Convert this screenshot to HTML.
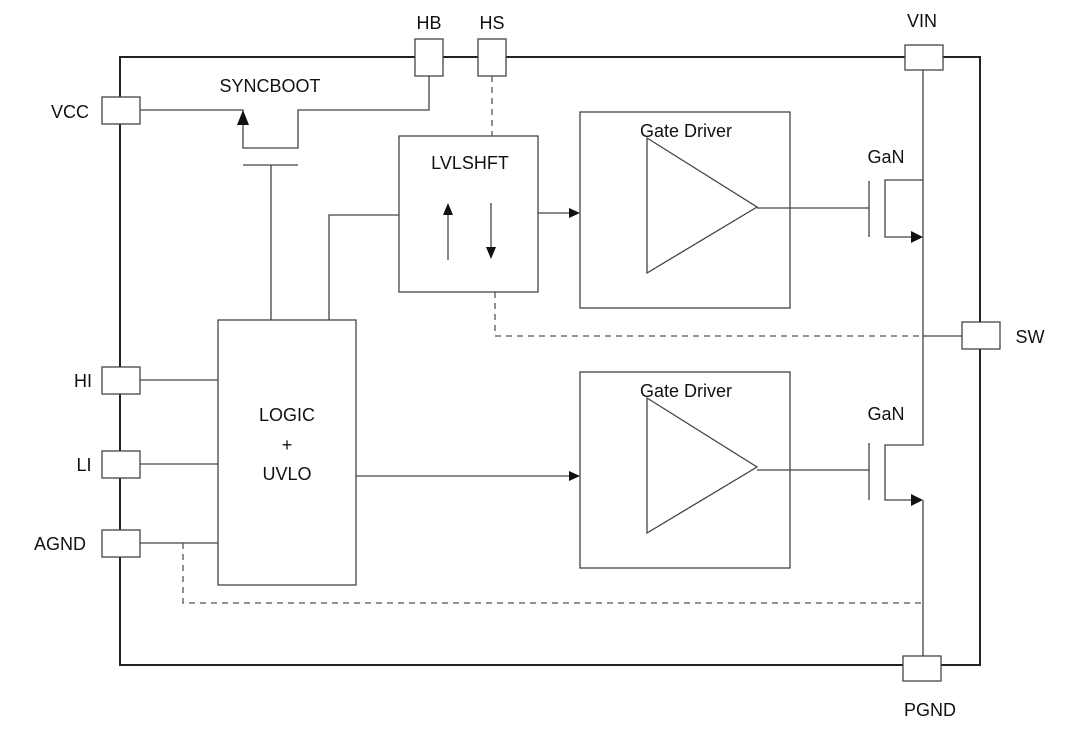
<!DOCTYPE html>
<html><head><style>body{margin:0;background:#fff}svg{display:block}text{font-family:"Liberation Sans",Arial,sans-serif;font-size:18px;fill:#111}</style></head><body>
<svg width="1080" height="733" viewBox="0 0 1080 733" xmlns="http://www.w3.org/2000/svg">
<g fill="none" stroke="#222" stroke-width="1.3">
<rect x="120" y="57" width="860" height="608" stroke-width="2"/>
</g>
<g fill="#fff" stroke="#444" stroke-width="1.3">
<rect x="905" y="45" width="38" height="25"/>
<rect x="903" y="656" width="38" height="25"/>
<rect x="962" y="322" width="38" height="27"/>
<rect x="415" y="39" width="28" height="37"/>
<rect x="478" y="39" width="28" height="37"/>
<rect x="102" y="97" width="38" height="27"/>
<rect x="102" y="367" width="38" height="27"/>
<rect x="102" y="451" width="38" height="27"/>
<rect x="102" y="530" width="38" height="27"/>
</g>
<g fill="none" stroke="#444" stroke-width="1.3">
<polyline points="140,110 243,110 243,148 298,148 298,110 429,110 429,76"/>
<line x1="243" y1="165" x2="298" y2="165"/>
<line x1="271" y1="165" x2="271" y2="320"/>
<rect x="399" y="136" width="139" height="156"/>
<line x1="448" y1="260" x2="448" y2="212"/>
<line x1="491" y1="203" x2="491" y2="250"/>
<polyline points="329,320 329,215 399,215"/>
<rect x="218" y="320" width="138" height="265"/>
<rect x="580" y="112" width="210" height="196"/>
<rect x="580" y="372" width="210" height="196"/>
<polygon points="647,138 757,207 647,273"/>
<polygon points="647,398 757,467 647,533"/>
<line x1="538" y1="213" x2="572" y2="213"/>
<line x1="356" y1="476" x2="572" y2="476"/>
<line x1="757" y1="208" x2="869" y2="208"/>
<line x1="757" y1="470" x2="869" y2="470"/>
<line x1="869" y1="181" x2="869" y2="237"/>
<line x1="869" y1="443" x2="869" y2="500"/>
<polyline points="923,70 923,445 885,445 885,500 915,500"/>
<polyline points="923,180 885,180 885,237 915,237"/>
<line x1="923" y1="500" x2="923" y2="656"/>
<line x1="923" y1="336" x2="962" y2="336"/>
<line x1="140" y1="380" x2="218" y2="380"/>
<line x1="140" y1="464" x2="218" y2="464"/>
<line x1="140" y1="543" x2="218" y2="543"/>
</g>
<g fill="none" stroke="#555" stroke-width="1.3" stroke-dasharray="6,5">
<line x1="492" y1="76" x2="492" y2="136"/>
<polyline points="495,292 495,336 923,336"/>
<polyline points="183,543 183,603 923,603"/>
</g>
<g fill="#111">
<polygon points="243,110 237,125 249,125"/>
<polygon points="448,203 443,215 453,215"/>
<polygon points="491,259 486,247 496,247"/>
<polygon points="580,213 569,208 569,218"/>
<polygon points="580,476 569,471 569,481"/>
<polygon points="923,237 911,231 911,243"/>
<polygon points="923,500 911,494 911,506"/>
</g>
<text x="922" y="27" text-anchor="middle">VIN</text>
<text x="930" y="716" text-anchor="middle">PGND</text>
<text x="1030" y="343" text-anchor="middle">SW</text>
<text x="429" y="29" text-anchor="middle">HB</text>
<text x="492" y="29" text-anchor="middle">HS</text>
<text x="70" y="118" text-anchor="middle">VCC</text>
<text x="83" y="387" text-anchor="middle">HI</text>
<text x="84" y="471" text-anchor="middle">LI</text>
<text x="60" y="550" text-anchor="middle">AGND</text>
<text x="270" y="92" text-anchor="middle">SYNCBOOT</text>
<text x="470" y="169" text-anchor="middle">LVLSHFT</text>
<text x="686" y="137" text-anchor="middle">Gate Driver</text>
<text x="686" y="397" text-anchor="middle">Gate Driver</text>
<text x="886" y="163" text-anchor="middle">GaN</text>
<text x="886" y="420" text-anchor="middle">GaN</text>
<text x="287" y="421" text-anchor="middle">LOGIC</text>
<text x="287" y="451" text-anchor="middle">+</text>
<text x="287" y="480" text-anchor="middle">UVLO</text>
</svg>
</body></html>
